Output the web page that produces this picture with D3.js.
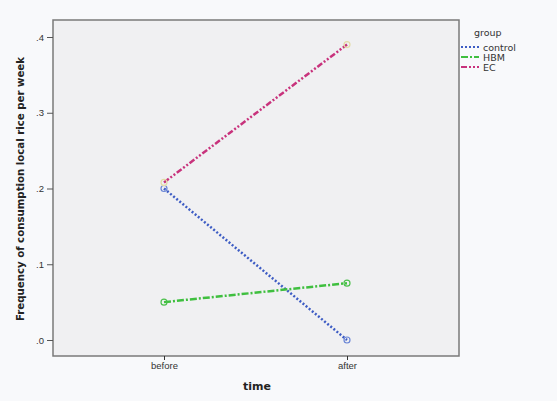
<!DOCTYPE html>
<html>
<head>
<meta charset="utf-8">
<script src="https://cdn.jsdelivr.net/npm/d3@7"></script>
<style>
  body { margin: 0; background: #f8f9fb; }
  svg { display: block; font-family: "DejaVu Sans", sans-serif; }
</style>
</head>
<body>
<svg id="chart" width="557" height="401"></svg>
<script>
// data
var times = ["before", "after"];
var groups = ["control", "HBM", "EC"];
var control = [0.2, 0.0];
var hbm = [0.05, 0.075];
var ec = [0.208, 0.39];
var yTicks = [0, 0.1, 0.2, 0.3, 0.4];

var colors = { control: "#3d5cc4", HBM: "#3fbf3f", EC: "#c8327c" };
var markerColors = { control: "#6b86d6", HBM: "#4cc04c", EC: "#e3dca6" };
var dashes = { control: "2,2", HBM: "7,2,2,2", EC: "6,2,2,2,2,2" };
var series = { control: control, HBM: hbm, EC: ec };

var svg = d3.select("#chart");
var plotL = 53, plotT = 20, plotR = 459, plotB = 356;

// plot frame
svg.append("rect")
    .attr("x", plotL).attr("y", plotT)
    .attr("width", plotR - plotL).attr("height", plotB - plotT)
    .attr("fill", "#f0f0f2")
    .attr("stroke", "#7a7a7a")
    .attr("stroke-width", 1.5);

var y = d3.scaleLinear().domain([0, 0.4]).range([340, 37]);
var x = d3.scalePoint().domain(times).range([164, 347]);

var yAxis = svg.append("g")
    .attr("transform", "translate(" + plotL + ",0)")
    .call(d3.axisLeft(y).tickValues(yTicks).tickSize(6).tickPadding(3)
        .tickFormat(function (d) { return d3.format(".1f")(d).replace(/^0/, ""); }));
yAxis.select(".domain").remove();
yAxis.selectAll("line").attr("stroke", "#555");
yAxis.selectAll("text").attr("font-size", 9.5).attr("fill", "#333");

var xAxis = svg.append("g")
    .attr("transform", "translate(0," + plotB + ")")
    .call(d3.axisBottom(x).tickSize(4).tickPadding(2));
xAxis.select(".domain").remove();
xAxis.selectAll("line").attr("stroke", "#333");
xAxis.selectAll("text").attr("font-size", 9.5).attr("fill", "#333");

// axis titles
svg.append("text")
    .attr("x", 257).attr("y", 390)
    .attr("text-anchor", "middle")
    .attr("font-size", 11).attr("font-weight", "bold")
    .attr("fill", "#222")
    .text("time");

svg.append("text")
    .attr("transform", "translate(24,189) rotate(-90)")
    .attr("text-anchor", "middle")
    .attr("font-size", 10.2).attr("font-weight", "bold")
    .attr("fill", "#222")
    .text("Frequency of consumption local rice per week");

var line = d3.line()
    .x(function (d, i) { return x(times[i]); })
    .y(function (d) { return y(d); });

groups.forEach(function (g) {
    svg.append("path")
        .datum(series[g])
        .attr("d", line)
        .attr("fill", "none")
        .attr("stroke", colors[g])
        .attr("stroke-width", 2.5)
        .attr("stroke-dasharray", dashes[g]);
    svg.selectAll(".pt-" + g)
        .data(series[g])
        .enter().append("circle")
        .attr("cx", function (d, i) { return x(times[i]); })
        .attr("cy", function (d) { return y(d); })
        .attr("r", 3)
        .attr("fill", "none")
        .attr("stroke", markerColors[g])
        .attr("stroke-width", 1.2);
});

// legend
svg.append("text")
    .attr("x", 474).attr("y", 36)
    .attr("font-size", 9.5).attr("fill", "#333")
    .text("group");
var leg = svg.selectAll(".leg").data(groups).enter().append("g")
    .attr("transform", function (d, i) { return "translate(461," + (47 + i * 10) + ")"; });
leg.append("line")
    .attr("x1", 0).attr("x2", 18)
    .attr("stroke", function (d) { return colors[d]; })
    .attr("stroke-width", 2)
    .attr("stroke-dasharray", function (d) { return dashes[d]; });
leg.append("text")
    .attr("x", 22).attr("y", 3.5)
    .attr("font-size", 9.5).attr("fill", "#333")
    .text(function (d) { return d; });
</script>
</body>
</html>
